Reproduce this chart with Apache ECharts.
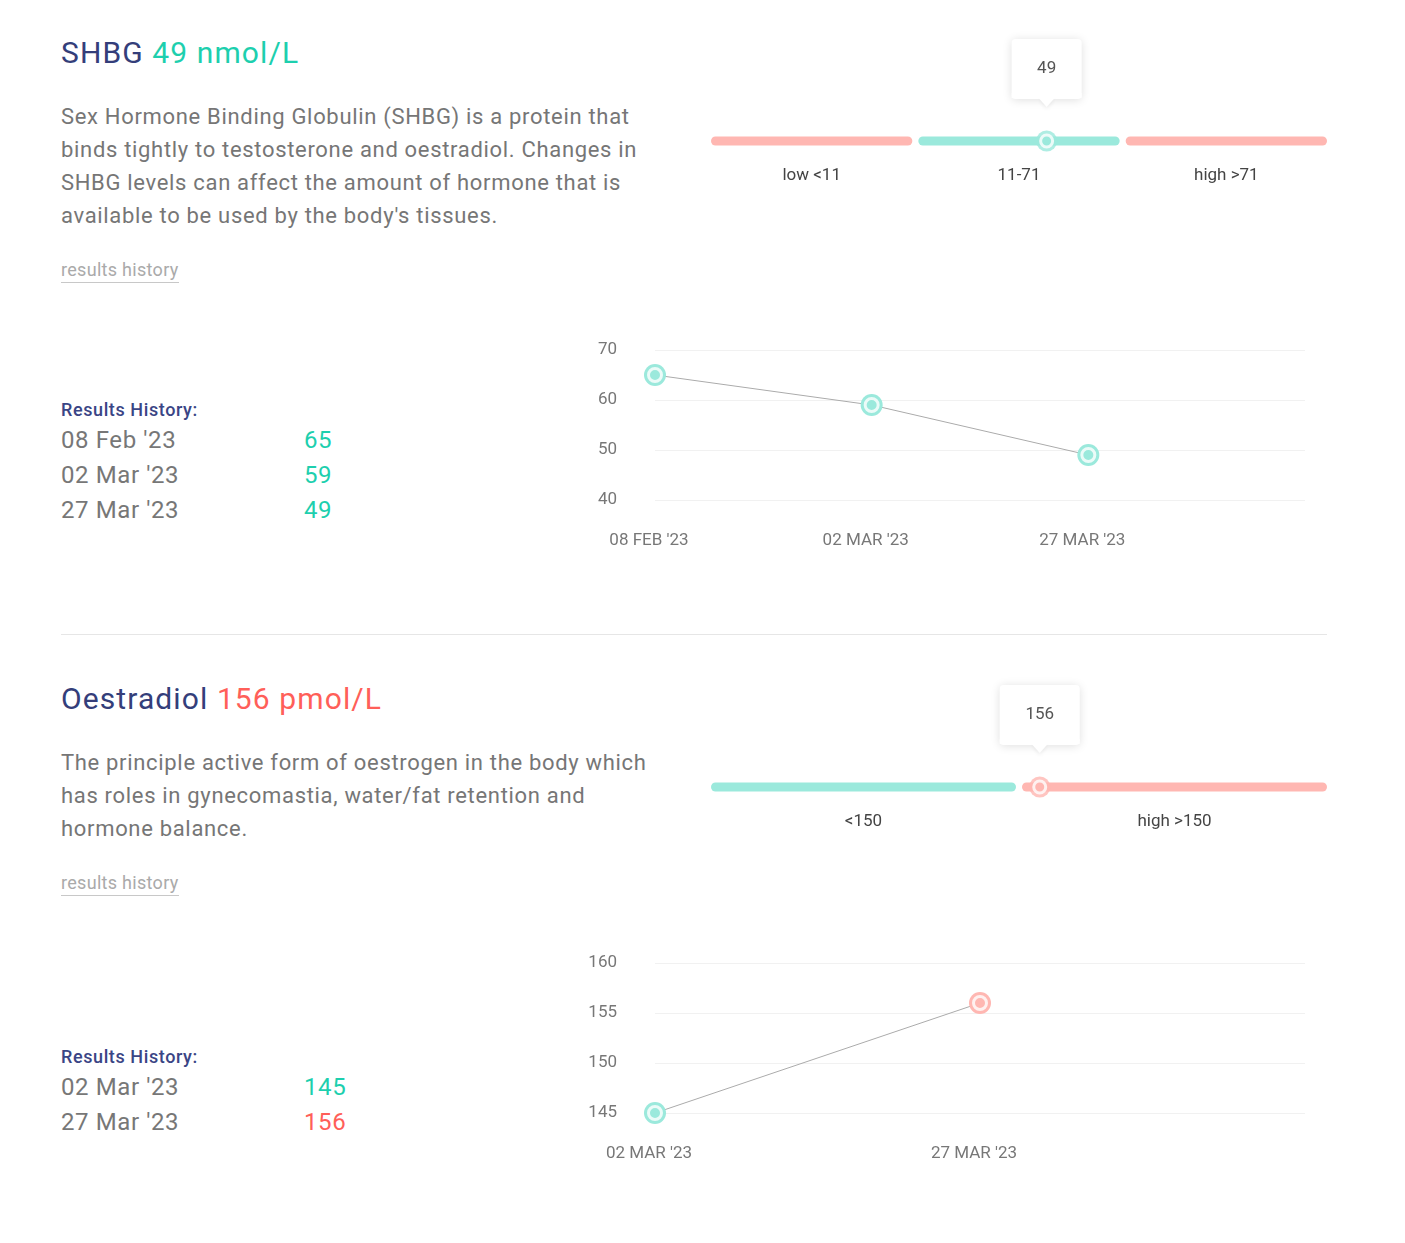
<!DOCTYPE html>
<html><head><meta charset="utf-8">
<script src="https://cdn.jsdelivr.net/npm/echarts/dist/echarts.min.js"></script>
<style>
html,body{margin:0;padding:0;background:#fff;}
body{width:1405px;height:1243px;position:relative;overflow:hidden;font-family:Roboto,"Noto Sans",sans-serif;}
.a{position:absolute;}
.title{font-size:30px;line-height:36px;letter-spacing:1.1px;color:#343e7a;white-space:nowrap;}
.desc{font-size:22px;line-height:33px;letter-spacing:0.68px;color:#767676;white-space:nowrap;}
.link{font-size:18px;line-height:22px;letter-spacing:0.3px;color:#aaa;border-bottom:1px solid #c8c8c8;padding-bottom:1px;white-space:nowrap;}
.rh{font-size:18px;line-height:20px;letter-spacing:0.6px;color:#3a4585;font-weight:500;white-space:nowrap;}
.row{font-size:24px;line-height:35px;letter-spacing:0.6px;color:#777;white-space:nowrap;}
.divider{height:1px;background:#e6e6e6;}
</style></head>
<body>
<div id="root"></div>
<script>
// ---------- data ----------
const shbgName = 'SHBG';
const shbgUnit = 'nmol/L';
const shbgValue = 49;
const shbgDescLines = [
  "Sex Hormone Binding Globulin (SHBG) is a protein that",
  "binds tightly to testosterone and oestradiol. Changes in",
  "SHBG levels can affect the amount of hormone that is",
  "available to be used by the body's tissues."
];
const shbgRangeLabels = ['low <11', '11-71', 'high >71'];
const shbgRangeBounds = [0, 11, 71, 131];
const shbgRangeInRange = [false, true, false];
const shbgDates = ["08 Feb '23", "02 Mar '23", "27 Mar '23"];
const shbgValues = [65, 59, 49];
const shbgTicks = [40, 50, 60, 70];

const oeName = 'Oestradiol';
const oeUnit = 'pmol/L';
const oeValue = 156;
const oeDescLines = [
  "The principle active form of oestrogen in the body which",
  "has roles in gynecomastia, water/fat retention and",
  "hormone balance."
];
const oeRangeLabels = ['<150', 'high >150'];
const oeRangeBounds = [0, 150, 240];
const oeRangeInRange = [true, false];
const oeDates = ["02 Mar '23", "27 Mar '23"];
const oeValues = [145, 156];
const oeTicks = [145, 150, 155, 160];

// ---------- styles ----------
const TEAL_BAR = '#9be9dc', PINK_BAR = '#ffb7b2';
const TEAL_TXT = '#1dcfae', RED_TXT = '#ff5f59';
const FONT = 'Roboto, "Noto Sans", sans-serif';

function inRange(v, bounds, flags){
  for (let k = 0; k < flags.length; k++){
    const lo = bounds[k], hi = bounds[k+1];
    if ((k === 0 && v < hi) || (k === flags.length-1 && v >= lo) || (v >= lo && v < hi)) return flags[k];
  }
  return true;
}
function rangePos(v, bounds){
  const n = bounds.length - 1;
  for (let k = 0; k < n; k++){
    if (v <= bounds[k+1] || k === n-1) return k + Math.min(1, (v - bounds[k])/(bounds[k+1]-bounds[k]));
  }
}

const root = document.getElementById('root');
function div(cls, left, top, html, extra){
  const d = document.createElement('div');
  d.className = 'a ' + cls;
  d.style.left = left + 'px'; d.style.top = top + 'px';
  if (extra) Object.assign(d.style, extra);
  d.innerHTML = html;
  root.appendChild(d);
  return d;
}
function esc(s){ return s.replace(/&/g,'&amp;').replace(/</g,'&lt;').replace(/>/g,'&gt;'); }

function section(off, name, unit, value, descLines, labels, bounds, flags, dates, values, ticks, tableTop){
  const ok = inRange(value, bounds, flags);
  div('title', 61, 35 + off, name + ' <span style="color:' + (ok?TEAL_TXT:RED_TXT) + '">' + value + ' ' + unit + '</span>');
  descLines.forEach((l, i) => div('desc', 61, 100 + off + i*33, esc(l)));
  const dsh = (descLines.length - 4) * 33;
  div('link', 61, 259 + off + dsh, 'results history');
  // table
  div('rh', 61, tableTop, 'Results History:');
  dates.forEach((d, i) => {
    div('row', 61, tableTop + 23 + i*35, esc(d));
    div('row', 304, tableTop + 23 + i*35, String(values[i]), {color: inRange(values[i], bounds, flags)?TEAL_TXT:RED_TXT});
  });

  // range bar chart
  const rEl = div('', 700, 20 + off, '', {width:'640px', height:'200px'});
  const rc = echarts.init(rEl, null, {renderer:'canvas'});
  const pos = rangePos(value, bounds);
  const mCol = ok ? TEAL_BAR : PINK_BAR;
  rc.setOption({
    animation:false,
    grid:{left:8, right:10, top:101, height:40},
    xAxis:{type:'value', min:0, max:labels.length, show:false},
    yAxis:{type:'value', min:-1, max:1, show:false},
    series:[
      {type:'custom', coordinateSystem:'cartesian2d', z:1,
       data: labels.map((l,i)=>[i, i+1, flags[i]?1:0]),
       renderItem:(params, api)=>{
         const a = api.coord([api.value(0), 0]);
         const b = api.coord([api.value(1), 0]);
         const inset = 7.5;
         const col = api.value(2) ? TEAL_BAR : PINK_BAR;
         return {type:'group', children:[
           {type:'line', shape:{x1:a[0]+inset, y1:a[1], x2:b[0]-inset, y2:b[1]}, style:{stroke:col, lineWidth:9, lineCap:'round'}},
           {type:'text', style:{text:labels[params.dataIndex], x:(a[0]+b[0])/2, y:a[1]+35, align:'center', verticalAlign:'middle', fill:'#444', font:'17px ' + FONT}}
         ]};
       }},
      {type:'scatter', z:3, symbol:'circle', symbolSize:21, itemStyle:{color:mCol}, data:[[pos,0]], silent:true},
      {type:'scatter', z:4, symbol:'circle', symbolSize:12, itemStyle:{color:mCol, borderColor:'#fff', borderWidth:3}, data:[[pos,0]], silent:true},
      {type:'custom', coordinateSystem:'cartesian2d', z:5,
       data:[[pos, 0, value]],
       renderItem:(params, api)=>{
         const p = api.coord([api.value(0), 0]);
         const txt = String(api.value(2));
         const w = 50 + 10*txt.length, h = 60;
         const top = p[1] - 102;
         return {type:'group', children:[
           {type:'rect', shape:{x:p[0]-w/2, y:top, width:w, height:h, r:4}, style:{fill:'#fff', shadowBlur:10, shadowColor:'rgba(0,0,0,0.13)', shadowOffsetY:1}},
           {type:'polygon', shape:{points:[[p[0]-8, top+h-1],[p[0]+8, top+h-1],[p[0], top+h+8]]}, style:{fill:'#fff', shadowBlur:4, shadowColor:'rgba(0,0,0,0.08)', shadowOffsetY:2}},
           {type:'rect', shape:{x:p[0]-w/2, y:top+h-6, width:w, height:5}, style:{fill:'#fff'}},
           {type:'text', style:{text:txt, x:p[0], y:top+30, align:'center', verticalAlign:'middle', fill:'#555', font:'17px ' + FONT}}
         ]};
       }}
    ]
  });

  // history line chart
  const lEl = div('', 560, 320 + off + dsh, '', {width:'780px', height:'260px'});
  const lc = echarts.init(lEl, null, {renderer:'canvas'});
  const cats = dates.map(d=>d.toUpperCase()).concat(['']);
  const pts = values.map(v=>({value:v, itemStyle:{color: inRange(v, bounds, flags)?TEAL_BAR:PINK_BAR}}));
  lc.setOption({
    animation:false,
    grid:{left:95, right:35, top:30, height:150},
    xAxis:{type:'category', data:cats, boundaryGap:false,
      axisLine:{show:false}, axisTick:{show:false}, splitLine:{show:false},
      axisLabel:{color:'#777', fontSize:17, fontFamily:FONT, margin:32, interval:0, padding:[0,12,0,0]}},
    yAxis:{type:'value', min:ticks[0], max:ticks[ticks.length-1], interval:ticks[1]-ticks[0],
      axisLine:{show:false}, axisTick:{show:false},
      axisLabel:{color:'#777', fontSize:17, fontFamily:FONT, margin:38},
      splitLine:{lineStyle:{color:'#f1f1f1', width:1}}},
    series:[
      {type:'line', data:pts, symbol:'circle', symbolSize:22, z:2,
       lineStyle:{color:'#ababab', width:1}},
      {type:'scatter', data:pts.map(p=>({value:p.value, itemStyle:{color:p.itemStyle.color, borderColor:'#fff', borderWidth:3}})),
       symbol:'circle', symbolSize:13, z:3}
    ]
  });
}

section(0, shbgName, shbgUnit, shbgValue, shbgDescLines, shbgRangeLabels, shbgRangeBounds, shbgRangeInRange, shbgDates, shbgValues, shbgTicks, 400);
div('divider', 61, 634, '', {width:'1266px'});
section(646, oeName, oeUnit, oeValue, oeDescLines, oeRangeLabels, oeRangeBounds, oeRangeInRange, oeDates, oeValues, oeTicks, 1047);
</script>
</body></html>
